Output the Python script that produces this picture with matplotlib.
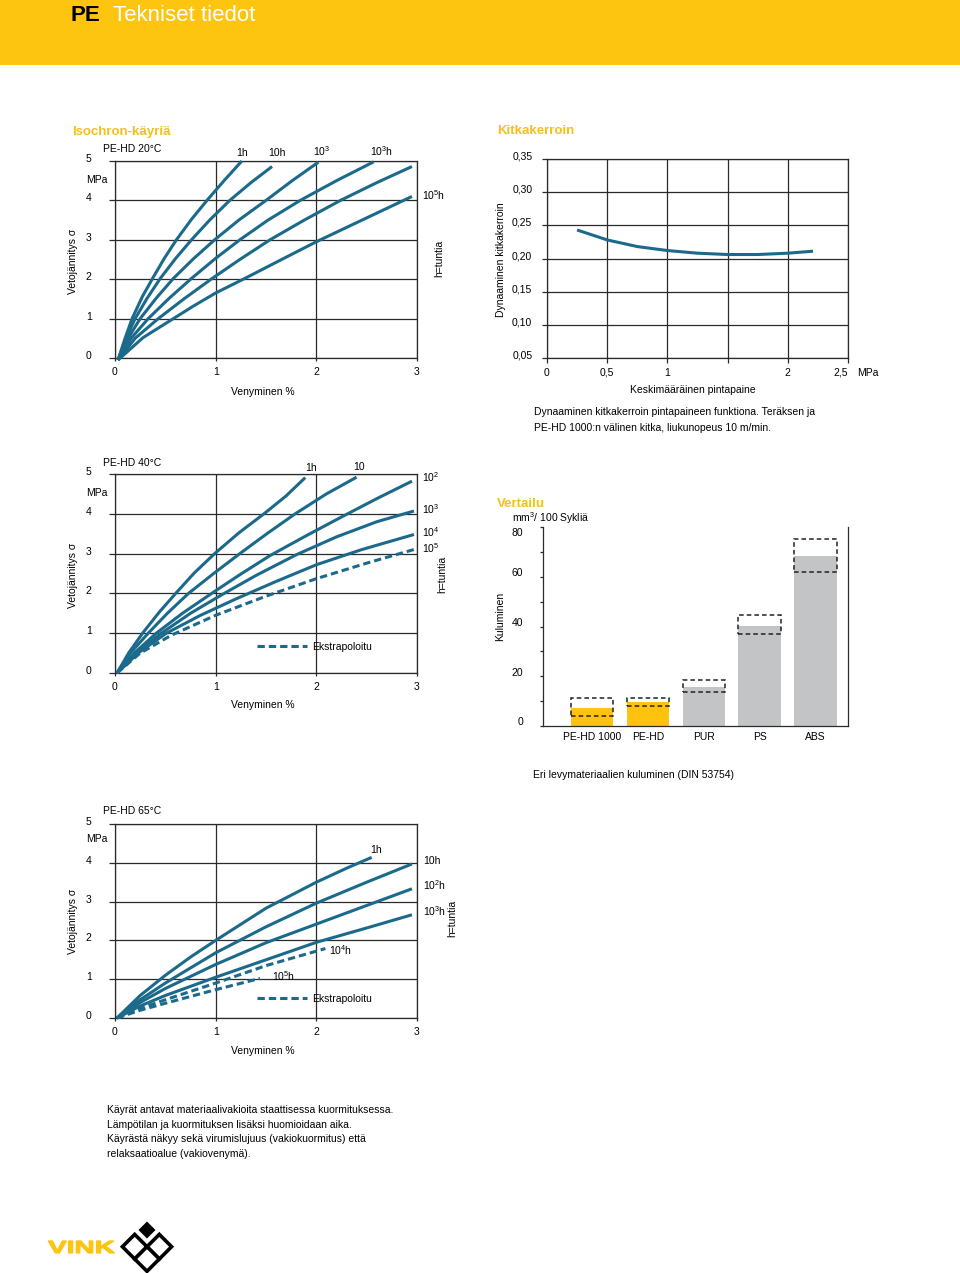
import numpy as np
import matplotlib
matplotlib.use("Agg")
import matplotlib.pyplot as plt
from matplotlib.patches import Rectangle, Polygon, PathPatch
from matplotlib.textpath import TextPath
from matplotlib.font_manager import FontProperties
from matplotlib.transforms import Affine2D, ScaledTranslation

plt.rcParams['font.family'] = ['Liberation Sans', 'DejaVu Sans']
plt.rcParams['mathtext.fontset'] = 'custom'
plt.rcParams['mathtext.rm'] = 'Liberation Sans'
plt.rcParams['mathtext.it'] = 'Liberation Sans:italic'
plt.rcParams['mathtext.bf'] = 'Liberation Sans:bold'
plt.rcParams['font.size'] = 7.5

# --- data ---
# isochrones PE-HD 20 C (strain %, stress MPa)
iso20_strain = [
    [0.03, 0.10, 0.17, 0.27, 0.38, 0.49, 0.61, 0.76, 0.92, 1.09, 1.26],
    [0.03, 0.11, 0.20, 0.32, 0.45, 0.60, 0.76, 0.94, 1.14, 1.35, 1.56],
    [0.03, 0.13, 0.25, 0.41, 0.58, 0.78, 0.99, 1.23, 1.50, 1.76, 2.02],
    [0.03, 0.16, 0.33, 0.54, 0.76, 1.00, 1.24, 1.52, 1.84, 2.20, 2.57],
    [0.03, 0.20, 0.43, 0.69, 0.96, 1.24, 1.54, 1.88, 2.24, 2.60, 2.95],
    [0.03, 0.28, 0.58, 0.78, 1.00, 1.29, 1.64, 2.00, 2.47, 2.95],
]
iso20_stress = [
    [-0.05, 0.5, 1.0, 1.55, 2.05, 2.53, 3.0, 3.52, 4.02, 4.52, 5.0],
    [-0.05, 0.5, 1.0, 1.52, 2.02, 2.52, 3.0, 3.5, 4.0, 4.45, 4.86],
    [-0.05, 0.5, 1.0, 1.52, 2.02, 2.52, 3.0, 3.5, 4.0, 4.5, 4.97],
    [-0.05, 0.5, 1.0, 1.52, 2.02, 2.53, 3.0, 3.5, 4.0, 4.5, 4.98],
    [-0.05, 0.5, 1.0, 1.51, 2.01, 2.5, 3.0, 3.5, 4.0, 4.45, 4.86],
    [-0.05, 0.52, 1.0, 1.32, 1.65, 2.02, 2.48, 2.95, 3.52, 4.1],
]
iso20_dashed = [False] * 6

# PE-HD 40 C
iso40_strain = [
    [0.02, 0.14, 0.28, 0.44, 0.61, 0.79, 0.99, 1.23, 1.49, 1.70, 1.89],
    [0.02, 0.16, 0.33, 0.52, 0.73, 0.98, 1.24, 1.52, 1.79, 2.10, 2.40],
    [0.02, 0.20, 0.41, 0.67, 0.96, 1.24, 1.54, 1.90, 2.25, 2.60, 2.95],
    [0.02, 0.22, 0.46, 0.75, 1.05, 1.40, 1.80, 2.20, 2.60, 2.97],
    [0.02, 0.24, 0.51, 0.85, 1.20, 1.60, 2.00, 2.45, 2.97],
    [0.02, 0.25, 0.56, 1.00, 1.50, 2.00, 2.50, 2.98],
]
iso40_stress = [
    [0, 0.52, 1.02, 1.53, 2.02, 2.52, 3.0, 3.52, 4.02, 4.45, 4.91],
    [0, 0.52, 1.0, 1.5, 2.0, 2.5, 3.0, 3.52, 4.0, 4.5, 4.92],
    [0, 0.52, 1.0, 1.5, 2.0, 2.47, 2.95, 3.45, 3.92, 4.38, 4.82],
    [0, 0.52, 1.0, 1.5, 1.95, 2.45, 2.97, 3.42, 3.8, 4.07],
    [0, 0.52, 1.0, 1.45, 1.86, 2.3, 2.72, 3.1, 3.48],
    [0, 0.5, 0.95, 1.45, 1.93, 2.37, 2.76, 3.11],
]
iso40_dashed = [False, False, False, False, False, True]

# PE-HD 65 C
iso65_strain = [
    [0.02, 0.25, 0.5, 0.75, 1.0, 1.5, 2.0, 2.3, 2.55],
    [0.02, 0.25, 0.5, 1.0, 1.5, 2.0, 2.5, 2.95],
    [0.02, 0.25, 0.5, 1.0, 1.5, 2.0, 2.5, 2.95],
    [0.02, 0.25, 0.5, 1.0, 1.5, 2.0, 2.5, 2.95],
    [0.02, 0.25, 0.5, 1.0, 1.5, 2.09],
    [0.02, 0.25, 0.5, 1.0, 1.44],
]
iso65_stress = [
    [0, 0.58, 1.1, 1.57, 2.0, 2.83, 3.5, 3.86, 4.14],
    [0, 0.47, 0.9, 1.68, 2.35, 2.96, 3.5, 3.97],
    [0, 0.4, 0.76, 1.38, 1.94, 2.42, 2.9, 3.33],
    [0, 0.31, 0.58, 1.05, 1.5, 1.95, 2.32, 2.66],
    [0, 0.25, 0.47, 0.9, 1.35, 1.79],
    [0, 0.2, 0.38, 0.73, 1.02],
]
iso65_dashed = [False, False, False, False, True, True]

# friction coefficient vs surface pressure
kitka_pressure = [0.25, 0.5, 0.75, 1.0, 1.25, 1.5, 1.75, 2.0, 2.21]
kitka_coeff = [0.243, 0.228, 0.218, 0.212, 0.208, 0.206, 0.206, 0.208, 0.211]

# wear comparison (mm3 / 100 cycles)
materials = ['PE-HD 1000', 'PE-HD', 'PUR', 'PS', 'ABS']
wear = [7.1, 9.5, 15.8, 40.4, 68.5]
wear_low = [4.0, 8.2, 13.7, 36.9, 62.1]
wear_high = [11.1, 11.4, 18.5, 44.6, 75.3]

W, H = 960, 1273
BLUE = '#1c6a8b'
YELLOW = '#fdc410'
TITLE_Y = '#f5c01c'
GRID = '#2a2a2a'
INK = '#000000'

fig = plt.figure(figsize=(W / 100, H / 100), dpi=100)


def box(x0, y0, x1, y1):
    return fig.add_axes([x0 / W, 1 - y1 / H, (x1 - x0) / W, (y1 - y0) / H])


def lift(labels, pts):
    off = ScaledTranslation(0, pts / 72, fig.dpi_scale_trans)
    for lab in labels:
        lab.set_transform(lab.get_transform() + off)


def frame(ax):
    ax.set_facecolor('none')
    ax.grid(True, color=GRID, lw=0.9)
    ax.set_axisbelow(True)
    for s in ax.spines.values():
        s.set_color(GRID)
        s.set_linewidth(0.9)


def isochron(ax, strain, stress, dashed):
    ax.set_xlim(0, 3)
    ax.set_ylim(0, 5)
    ax.set_xticks([0, 1, 2, 3])
    ax.set_yticks(range(6), labels=[str(v) for v in range(6)], ha='left')
    frame(ax)
    ax.tick_params(axis='x', length=2.4, width=0.9, color=GRID, pad=4, labelcolor=INK)
    ax.tick_params(axis='y', length=4, width=0.9, color=GRID, pad=17, labelcolor=INK)
    lift(ax.get_yticklabels(), 2.2)
    for xs, ys, d in zip(strain, stress, dashed):
        ax.plot(xs, ys, color=BLUE, lw=2.2, ls=(0, (2.4, 1.3)) if d else '-',
                solid_capstyle='butt', solid_joinstyle='round', clip_on=False, zorder=3)


ax1 = box(115, 161, 417, 358)
isochron(ax1, iso20_strain, iso20_stress, iso20_dashed)
ax2 = box(115, 474, 417, 673)
isochron(ax2, iso40_strain, iso40_stress, iso40_dashed)
ax3 = box(115, 824, 417, 1018)
isochron(ax3, iso65_strain, iso65_stress, iso65_dashed)

# friction chart
axk = box(547, 159, 848, 358)
axk.plot(kitka_pressure, kitka_coeff, color=BLUE, lw=2.2, solid_capstyle='butt', zorder=3)
axk.set_xlim(0, 2.5)
axk.set_ylim(0.05, 0.35)
axk.set_xticks(np.arange(0, 2.51, 0.5), labels=['0', '0,5', '1', '', '2', '2,5'])
yk = np.arange(0.05, 0.351, 0.05)
axk.set_yticks(yk, labels=[('%.2f' % v).replace('.', ',') for v in yk])
frame(axk)
axk.tick_params(axis='x', length=3.6, width=0.9, color=GRID, pad=3.5, labelcolor=INK)
axk.tick_params(axis='y', length=3.6, width=0.9, color=GRID, pad=7, labelcolor=INK)
axk.get_xticklabels()[-1].set_ha('right')
lift(axk.get_yticklabels(), 2.5)

# wear chart
axv = box(543, 527, 848, 726)
pos = np.arange(len(materials))
bar_colors = ['#ffc20f', '#ffc20f', '#c3c4c6', '#c3c4c6', '#c3c4c6']
axv.bar(pos, wear, width=0.764, color=bar_colors, zorder=2)
axv.bar(pos, np.array(wear_high) - np.array(wear_low), bottom=wear_low, width=0.764,
        fill=False, edgecolor='#222222', lw=1.1, ls=(0, (3, 2)), zorder=3)
axv.set_xlim(-0.878, 4.578)
axv.set_ylim(0, 80)
axv.set_xticks(pos, labels=materials)
axv.set_yticks(range(0, 81, 10), labels=['0', '', '20', '', '40', '', '60', '', '80'])
axv.set_facecolor('none')
axv.spines['top'].set_visible(False)
for s in ['left', 'right', 'bottom']:
    axv.spines[s].set_color(GRID)
    axv.spines[s].set_linewidth(0.9)
axv.tick_params(axis='x', length=0, pad=4.5, labelcolor=INK)
axv.tick_params(axis='y', length=2.4, width=0.9, color=GRID, pad=12, labelcolor=INK)
vlabs = axv.get_yticklabels()
lift(vlabs[:-1], 3.3)
lift(vlabs[-1:], -3.8)

# --- page overlay in pixel coordinates ---
ov = fig.add_axes([0, 0, 1, 1], zorder=5)
ov.set_xlim(0, W)
ov.set_ylim(H, 0)
ov.axis('off')
ov.patch.set_visible(False)


def txt(x, y, s, ha='left', **kw):
    kw.setdefault('color', INK)
    ov.text(x, y + 4, s, ha=ha, va='baseline', **kw)


def vtxt(x, y, s, **kw):
    ov.text(x, y, s, ha='center', va='center', rotation=90, color=INK, **kw)


ov.add_patch(Rectangle((0, 0), W, 65, color=YELLOW, lw=0))
ov.text(70, 21, 'PE', fontsize=16, fontweight='bold', color='black', va='baseline')
ov.text(113, 21, 'Tekniset tiedot', fontsize=16, color='white', va='baseline')

# isochron texts
txt(72, 131, 'Isochron-käyriä', fontsize=9.5, fontweight='bold', color=TITLE_Y)
for ytop, temp, ycen in [(148, 'PE-HD 20°C', 261), (462, 'PE-HD 40°C', 575), (810, 'PE-HD 65°C', 921)]:
    txt(103, ytop, temp)
    vtxt(73, ycen, 'Vetojännitys σ')
txt(86, 179, 'MPa')
txt(86, 492, 'MPa')
txt(86, 838, 'MPa')
for yv in [391, 704, 1050]:
    txt(263, yv, 'Venyminen %', ha='center')
vtxt(439, 258, 'h=tuntia')
vtxt(442, 574, 'h=tuntia')
vtxt(452, 918, 'h=tuntia')

for s, x, y, ha in [('1h', 242, 152, 'center'), ('10h', 277, 152, 'center'),
                    ('10$^{3}$', 322, 152, 'center'), ('10$^{3}$h', 382, 152, 'center'),
                    ('10$^{5}$h', 422, 196, 'left'),
                    ('1h', 311, 467, 'center'), ('10', 359, 466, 'center'),
                    ('10$^{2}$', 422, 478, 'left'), ('10$^{3}$', 422, 510, 'left'),
                    ('10$^{4}$', 422, 533, 'left'), ('10$^{5}$', 422, 549, 'left'),
                    ('1h', 376, 849, 'center'), ('10h', 423, 860, 'left'),
                    ('10$^{2}$h', 423, 886, 'left'), ('10$^{3}$h', 423, 912, 'left'),
                    ('10$^{4}$h', 329, 951, 'left'), ('10$^{5}$h', 272, 977, 'left')]:
    txt(x, y, s, ha=ha)

for yl in [646, 998]:
    ov.plot([257, 307], [yl, yl], color=BLUE, lw=2.2, ls=(0, (2.4, 1.3)))
    txt(312, yl, 'Ekstrapoloitu')

# friction texts
txt(497, 130, 'Kitkakerroin', fontsize=9.5, fontweight='bold', color=TITLE_Y)
vtxt(501, 260, 'Dynaaminen kitkakerroin')
txt(857, 372, 'MPa')
txt(693, 389, 'Keskimääräinen pintapaine', ha='center')
txt(534, 411, 'Dynaaminen kitkakerroin pintapaineen funktiona. Teräksen ja')
txt(534, 427, 'PE-HD 1000:n välinen kitka, liukunopeus 10 m/min.')

# wear texts
txt(497, 503, 'Vertailu', fontsize=9.5, fontweight='bold', color=TITLE_Y)
txt(512, 518, 'mm$^{3}$/ 100 Sykliä')
vtxt(500, 616, 'Kuluminen')
txt(533, 774, 'Eri levymateriaalien kuluminen (DIN 53754)')

# footer text
for i, line in enumerate(['Käyrät antavat materiaalivakioita staattisessa kuormituksessa.',
                          'Lämpötilan ja kuormituksen lisäksi huomioidaan aika.',
                          'Käyrästä näkyy sekä virumislujuus (vakiokuormitus) että',
                          'relaksaatioalue (vakiovenymä).']):
    txt(107, 1109 + i * 14.6, line)

# VINK logo
tp = TextPath((0, 0), 'VINK', size=17.5,
              prop=FontProperties(family='Liberation Sans', weight='bold'))
tr = Affine2D().scale(1.6, -1.0).translate(48, 1253) + ov.transData
ov.add_patch(PathPatch(tp, transform=tr, facecolor=YELLOW, edgecolor=YELLOW, lw=0.9))
d = 12.3
for cx, cy in [(134.7, 1246.7), (159.3, 1246.7), (147, 1259)]:
    ov.add_patch(Polygon([(cx - d, cy), (cx, cy - d), (cx + d, cy), (cx, cy + d)],
                         closed=True, facecolor='white', edgecolor='black', lw=2.6))
t = 8.5
ov.add_patch(Polygon([(147 - t, 1230), (147, 1230 - t), (147 + t, 1230), (147, 1230 + t)],
                     closed=True, facecolor='black', edgecolor='none'))

fig.savefig('out.png', dpi=100)
